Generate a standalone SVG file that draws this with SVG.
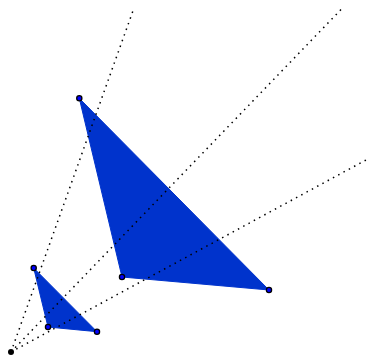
<svg xmlns="http://www.w3.org/2000/svg" width="367" height="358" viewBox="0 0 367 358">
<style>
.tri{fill:#0033cc;stroke:#0033cc;stroke-width:1;stroke-linejoin:round}
.ray{stroke:#000;stroke-width:1.5;stroke-dasharray:1.5 4.5;fill:none}
.pt{fill:#0000ff;stroke:#000;stroke-width:1.3}
</style>
<rect width="367" height="358" fill="#fff"/>
<g id="small-triangle"><polygon class="tri" points="33.7,268 48,327 97,331.7"/></g>
<g id="large-triangle"><polygon class="tri" points="79.3,98.3 122,277 269,290"/></g>
<g id="connectors">
<line class="ray" x1="11" y1="352" x2="134" y2="8"/>
<line class="ray" x1="11" y1="352" x2="342" y2="8.5"/>
<line class="ray" x1="11" y1="352" x2="366" y2="160"/>
</g>
<g id="center"><circle cx="11" cy="352" r="3" fill="#000"/></g>
<g id="small-points">
<circle class="pt" cx="33.7" cy="268" r="2.6"/>
<circle class="pt" cx="48" cy="327" r="2.6"/>
<circle class="pt" cx="97" cy="331.7" r="2.6"/>
</g>
<g id="large-points">
<circle class="pt" cx="79.3" cy="98.3" r="2.6"/>
<circle class="pt" cx="122" cy="277" r="2.6"/>
<circle class="pt" cx="269" cy="290" r="2.6"/>
</g>
</svg>
